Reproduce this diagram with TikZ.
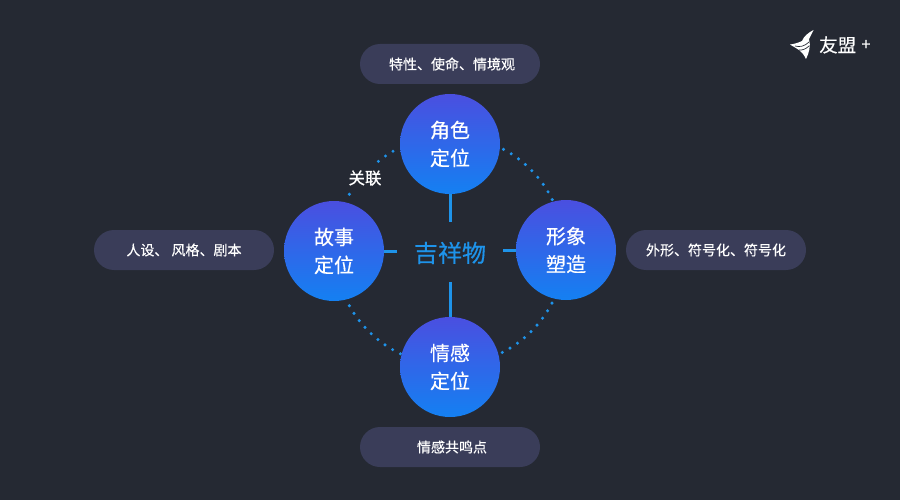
\documentclass[tikz,border=0pt]{standalone}
\usepackage{fontspec}
\setmainfont{Noto Sans CJK SC}
\newfontfamily\medfont[FakeBold=0.35]{Noto Sans CJK SC}
\usetikzlibrary{positioning}
\definecolor{bgdark}{HTML}{252933}
\definecolor{pillgray}{HTML}{3A3D59}
\definecolor{linkblue}{HTML}{1E93EA}
\definecolor{ballbottom}{HTML}{1480F2}
\definecolor{balltop}{HTML}{4A4FE0}
\newcommand{\lowtext}[1]{\raisebox{-1pt}{#1}}
\tikzset{
  ball/.style={circle, minimum size=100pt, inner sep=0pt, top color=balltop, bottom color=ballbottom,
    text=white, align=center, font=\medfont\fontsize{20}{28}\selectfont},
  pill/.style={rounded corners=20pt, minimum width=180pt, minimum height=40pt, inner sep=0pt, fill=pillgray,
    text=white, font=\medfont\fontsize{14}{14}\selectfont},
  link/.style={draw=linkblue, line width=3pt},
  dotarc/.style={draw=linkblue, line width=3.4pt, line cap=round, dash pattern=on 0pt off 8.9pt},
}
\begin{document}
\begin{tikzpicture}[x=1pt,y=-1pt]
\useasboundingbox (0,0) rectangle (900,500);
\fill[bgdark] (0,0) rectangle (900,500);
% centre
\node[text=linkblue, font=\medfont\fontsize{24}{24}\selectfont, inner sep=0pt, minimum width=106pt, minimum height=60pt] (mascot) at (450,253) {吉祥物};
\coordinate (hub) at (450,250);
\coordinate (roleend) at (450,222);
\coordinate (feelend) at (450,282);
\coordinate (storyend) at (397,251);
\coordinate (shapeend) at (503,250);
% dotted ring
\draw[dotarc] (hub) ++(-62:114) arc[start angle=-62,end angle=-26,radius=114];
\draw[dotarc] (hub) ++(27.5:115) arc[start angle=27.5,end angle=63,radius=115];
\draw[dotarc] (hub) ++(151:115) arc[start angle=151,end angle=113,radius=115];
\draw[dotarc] (hub) ++(-120:114) arc[start angle=-120,end angle=-130,radius=114];
\draw[dotarc] (hub) ++(-151:115) arc[start angle=-151,end angle=-155,radius=115];
% balls
\node[ball] (role) at (450,144) {角色\\定位};
\node[ball] (story) at (334,251) {\lowtext{故事}\\\lowtext{定位}};
\node[ball] (shape) at (566,250) {\lowtext{形象}\\\lowtext{塑造}};
\node[ball] (feel) at (450,367) {情感\\定位};
\draw[link] (role) -- (roleend);
\draw[link] (feel) -- (feelend);
\draw[link] (story) -- (storyend);
\draw[link] (shape) -- (shapeend);
% pills
\node[pill] (rolenote) at (450,64) {\kern4pt 特性、使命、情境观};
\node[pill] (storynote) at (184,250) {人设、 风格、剧本};
\node[pill] (shapenote) at (716,250) {外形、符号化、符号化};
\node[pill] (feelnote) at (450,447) {\kern4pt 情感共鸣点};
\node[text=white, font=\medfont\fontsize{16.5}{16.5}\selectfont, inner sep=0pt] (linklabel) at (365,178) {关联};
% logo
\fill[white] (813.5,30) .. controls (808,33) and (804,36) .. (802,41) .. controls (798,43) and (794,44) .. (790,44.5)
  .. controls (794,47) and (797,48.5) .. (799,50) .. controls (802,52) and (804,55) .. (806,59)
  .. controls (809,53) and (811,46) .. (809,39) -- cycle;
\draw[bgdark, line width=.7pt] (795,46) .. controls (800,47.5) and (805,46) .. (809,42);
\draw[bgdark, line width=.7pt] (799,50) .. controls (802,50.5) and (806,49) .. (809,46);
\node[text=white, font=\medfont\fontsize{18.5}{18.5}\selectfont, inner sep=0pt, right=5pt of {(814,45)}] (brand) {友盟};
\node[text=white, font=\medfont\fontsize{16}{16}\selectfont, inner sep=0pt] (brandplus) at (866,45) {+};
\end{tikzpicture}
\end{document}
